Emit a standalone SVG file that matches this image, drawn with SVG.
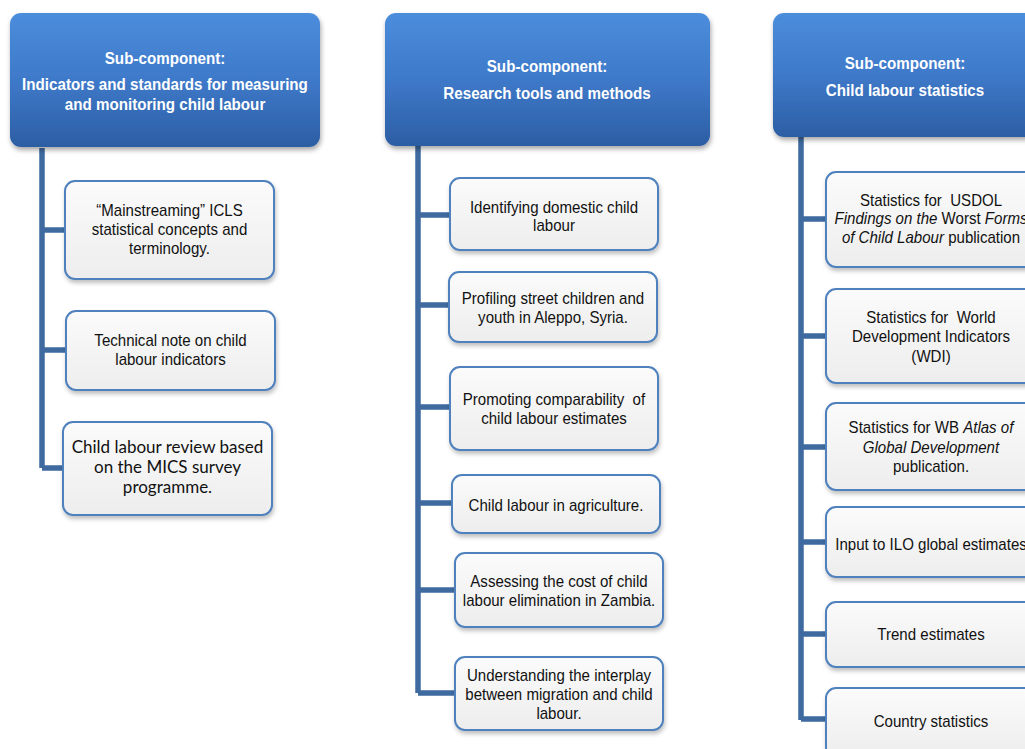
<svg xmlns="http://www.w3.org/2000/svg" width="1025" height="749" viewBox="0 0 1025 749">
<defs>
<linearGradient id="hg2" x1="0" y1="0" x2="0" y2="1">
<stop offset="0" stop-color="#4b8ddc"/>
<stop offset="0.5" stop-color="#3e79c9"/>
<stop offset="1" stop-color="#2c5ea4"/>
</linearGradient>
<linearGradient id="bg" x1="0" y1="0" x2="0" y2="1">
<stop offset="0" stop-color="#fbfbfb"/>
<stop offset="1" stop-color="#ededed"/>
</linearGradient>
<filter id="sh" x="-10%" y="-10%" width="130%" height="140%">
<feDropShadow dx="1" dy="3" stdDeviation="2.5" flood-color="#000" flood-opacity="0.35"/>
</filter>
<filter id="sh2" x="-10%" y="-10%" width="130%" height="140%">
<feDropShadow dx="1" dy="3" stdDeviation="2" flood-color="#000" flood-opacity="0.25"/>
</filter>
</defs>
<style>
.hdr{fill:url(#hg2);filter:url(#sh)}
.box{fill:url(#bg);stroke:#4f81bd;stroke-width:2;filter:url(#sh2)}
.ht{font-family:"Liberation Sans",Arial,sans-serif;font-weight:bold;font-size:16.5px;fill:#fff;text-anchor:middle}
.bt{font-family:"Liberation Sans",Arial,sans-serif;font-size:17px;fill:#111;text-anchor:middle}
.ct{font-family:Lato,"Liberation Sans",sans-serif;font-size:17px;fill:#111;text-anchor:middle}
.i{font-style:italic}
.ln{stroke:#3e6aa0;stroke-width:5.5;fill:none;stroke-linejoin:round}
</style>

<g id="connectors">
<path class="ln" d="M42 148 V468 M42 230 H65 M42 350 H66 M42 468 H63"/>
<path class="ln" d="M418 146 V693 M418 215 H450 M418 305 H449 M418 407 H450 M418 503 H452 M418 590 H455 M418 693 H455"/>
<path class="ln" d="M801 137 V720 M801 219 H826 M801 336 H826 M801 447 H826 M801 542 H826 M801 634 H826 M801 719 H826"/>
</g>

<g id="h1">
<rect class="hdr" x="10" y="13" width="310" height="134" rx="11"/>
<g transform="translate(165,0) scale(0.92,1)">
<text class="ht" x="0" y="64">Sub-component:</text>
<text class="ht" x="0" y="90">Indicators and standards for measuring</text>
<text class="ht" x="0" y="110">and monitoring child labour</text>
</g>
</g>

<g id="h2">
<rect class="hdr" x="385" y="13" width="325" height="133" rx="11"/>
<g transform="translate(547,0) scale(0.92,1)">
<text class="ht" x="0" y="72">Sub-component:</text>
<text class="ht" x="0" y="99">Research tools and methods</text>
</g>
</g>

<g id="h3">
<rect class="hdr" x="773" y="13" width="264" height="124" rx="11"/>
<g transform="translate(905,0) scale(0.92,1)">
<text class="ht" x="0" y="69">Sub-component:</text>
<text class="ht" x="0" y="96">Child labour statistics</text>
</g>
</g>

<g id="n1">
<rect class="box" x="65" y="181" width="209" height="98" rx="10"/>
<g transform="translate(169.5,0) scale(0.886,1)">
<text class="bt" x="0" y="216">“Mainstreaming” ICLS</text>
<text class="bt" x="0" y="235">statistical concepts and</text>
<text class="bt" x="0" y="254">terminology.</text>
</g>
</g>

<g id="n2">
<rect class="box" x="66" y="311" width="209" height="79" rx="10"/>
<g transform="translate(170.5,0) scale(0.886,1)">
<text class="bt" x="0" y="346">Technical note on child</text>
<text class="bt" x="0" y="365">labour indicators</text>
</g>
</g>

<g id="n3">
<rect class="box" x="63" y="422" width="209" height="93" rx="10"/>
<text class="ct" x="167.5" y="453">Child labour review based</text>
<text class="ct" x="167.5" y="473">on the MICS survey</text>
<text class="ct" x="167.5" y="493">programme.</text>
</g>

<g id="m1">
<rect class="box" x="450" y="178" width="208" height="72" rx="10"/>
<g transform="translate(554,0) scale(0.886,1)">
<text class="bt" x="0" y="213">Identifying domestic child</text>
<text class="bt" x="0" y="231">labour</text>
</g>
</g>

<g id="m2">
<rect class="box" x="449" y="272" width="208" height="70" rx="10"/>
<g transform="translate(553,0) scale(0.886,1)">
<text class="bt" x="0" y="304">Profiling street children and</text>
<text class="bt" x="0" y="323">youth in Aleppo, Syria.</text>
</g>
</g>

<g id="m3">
<rect class="box" x="450" y="367" width="208" height="83" rx="10"/>
<g transform="translate(554,0) scale(0.886,1)">
<text class="bt" x="0" y="405">Promoting comparability &#160;of</text>
<text class="bt" x="0" y="424">child labour estimates</text>
</g>
</g>

<g id="m4">
<rect class="box" x="452" y="475" width="208" height="58" rx="10"/>
<g transform="translate(556,0) scale(0.886,1)">
<text class="bt" x="0" y="511">Child labour in agriculture.</text>
</g>
</g>

<g id="m5">
<rect class="box" x="455" y="553" width="208" height="74" rx="10"/>
<g transform="translate(559,0) scale(0.886,1)">
<text class="bt" x="0" y="587">Assessing the cost of child</text>
<text class="bt" x="0" y="606">labour elimination in Zambia.</text>
</g>
</g>

<g id="m6">
<rect class="box" x="455" y="657" width="208" height="73" rx="10"/>
<g transform="translate(559,0) scale(0.886,1)">
<text class="bt" x="0" y="681">Understanding the interplay</text>
<text class="bt" x="0" y="700">between migration and child</text>
<text class="bt" x="0" y="719">labour.</text>
</g>
</g>

<g id="r1">
<rect class="box" x="826" y="172" width="210" height="95" rx="10"/>
<g transform="translate(931,0) scale(0.886,1)">
<text class="bt" x="0" y="206">Statistics for &#160;USDOL</text>
<text class="bt" x="0" y="224"><tspan class="i">Findings on the</tspan> Worst <tspan class="i">Forms</tspan></text>
<text class="bt" x="0" y="243"><tspan class="i">of Child Labour</tspan> publication</text>
</g>
</g>

<g id="r2">
<rect class="box" x="826" y="289" width="210" height="94" rx="10"/>
<g transform="translate(931,0) scale(0.886,1)">
<text class="bt" x="0" y="323">Statistics for &#160;World</text>
<text class="bt" x="0" y="342">Development Indicators</text>
<text class="bt" x="0" y="362">(WDI)</text>
</g>
</g>

<g id="r3">
<rect class="box" x="826" y="403" width="210" height="87" rx="10"/>
<g transform="translate(931,0) scale(0.886,1)">
<text class="bt" x="0" y="433">Statistics for WB <tspan class="i">Atlas of</tspan></text>
<text class="bt i" x="0" y="453">Global Development</text>
<text class="bt" x="0" y="472">publication.</text>
</g>
</g>

<g id="r4">
<rect class="box" x="826" y="507" width="210" height="70" rx="10"/>
<g transform="translate(931,0) scale(0.886,1)">
<text class="bt" x="0" y="550">Input to ILO global estimates</text>
</g>
</g>

<g id="r5">
<rect class="box" x="826" y="602" width="210" height="65" rx="10"/>
<g transform="translate(931,0) scale(0.886,1)">
<text class="bt" x="0" y="640">Trend estimates</text>
</g>
</g>

<g id="r6">
<rect class="box" x="826" y="688" width="210" height="70" rx="10"/>
<g transform="translate(931,0) scale(0.886,1)">
<text class="bt" x="0" y="727">Country statistics</text>
</g>
</g>
</svg>
